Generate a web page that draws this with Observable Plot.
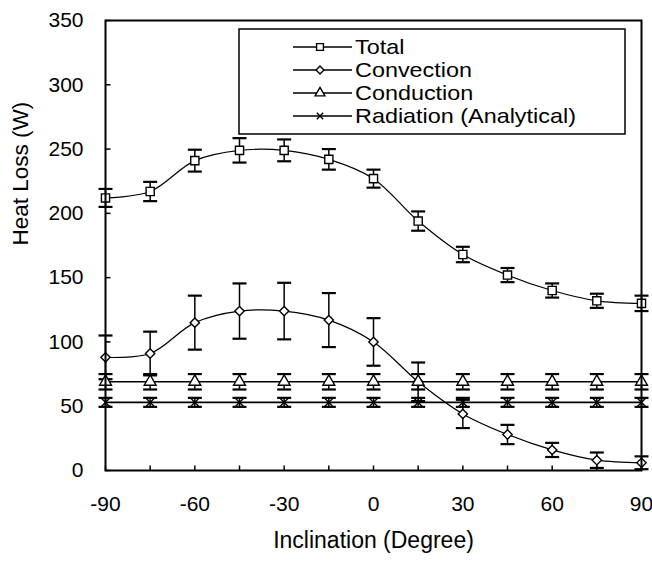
<!DOCTYPE html>
<html><head><meta charset="utf-8">
<script src="https://cdn.jsdelivr.net/npm/d3@7"></script>
<script src="https://cdn.jsdelivr.net/npm/@observablehq/plot@0.6"></script>
<style>body{margin:0;background:#fff}</style>
</head><body><div id="chart"></div>
<script>
// ---- data ----
const inclination = [-90, -75, -60, -45, -30, -15, 0, 15, 30, 45, 60, 75, 90];
const seriesNames = ["Total", "Convection", "Conduction", "Radiation (Analytical)"];
const total      = [212, 217, 241, 249, 249, 242, 227, 194, 168, 152, 140, 132, 130];
const totalErr   = [7, 7.5, 8.5, 9.5, 8.5, 8, 7, 7.5, 6, 5.5, 5.5, 5.5, 6];
const convection = [88, 91, 115, 124, 124, 117, 100, 69, 44, 28, 16, 8, 6];
const convectionErr = [17, 17, 21, 21.5, 22, 21, 18.5, 15, 11, 7.5, 5.5, 6, 5];
const conduction = [69, 69, 69, 69, 69, 69, 69, 69, 69, 69, 69, 69, 69];
const conductionErr = [6, 6, 6, 6, 6, 6, 6, 6, 6, 6, 6, 6, 6];
const radiation  = [53, 53, 53, 53, 53, 53, 53, 53, 53, 53, 53, 53, 53];
const radiationErr = [3.5, 3.5, 3.5, 3.5, 3.5, 3.5, 3.5, 3.5, 3.5, 3.5, 3.5, 3.5, 3.5];
const xTickLabels = [-90, -60, -30, 0, 30, 60, 90];
const xMinorTicks = [-90, -75, -60, -45, -30, -15, 0, 15, 30, 45, 60, 75, 90];
const yTicks = [0, 50, 100, 150, 200, 250, 300, 350];
const xTitle = "Inclination (Degree)";
const yTitle = "Heat Loss (W)";

const symbols = ["square", "diamond2", "triangle", "times"];
const d3Symbols = [d3.symbolSquare, d3.symbolDiamond2, d3.symbolTriangle, d3.symbolTimes];
const radii = [4.6, 4.2, 4.4, 3.6];
const curves = ["catmull-rom", "catmull-rom", "linear", "linear"];
const valueSets = [total, convection, conduction, radiation];
const errSets = [totalErr, convectionErr, conductionErr, radiationErr];

const series = seriesNames.map((name, k) =>
  inclination.map((x, i) => ({
    name, x, y: valueSets[k][i],
    lo: valueSets[k][i] - errSets[k][i],
    hi: valueSets[k][i] + errSets[k][i]
  })));

const cap = {draw(ctx) { ctx.moveTo(-7, 0); ctx.lineTo(7, 0); }};
const tickUp = {draw(ctx) { ctx.moveTo(0, 0); ctx.lineTo(0, -5); }};
const tickRight = {draw(ctx) { ctx.moveTo(0, 0); ctx.lineTo(5, 0); }};

const font = "'Liberation Sans', Arial, sans-serif";

const marks = [
  Plot.axisX({ticks: xTickLabels, tickSize: 0, tickPadding: 26, fontSize: 21, tickFormat: d => String(d), label: null}),
  Plot.axisY({ticks: yTicks, tickSize: 0, tickPadding: 22, fontSize: 21, tickFormat: d => String(d), label: null}),
  Plot.dot(xMinorTicks, {x: d => d, frameAnchor: "bottom", symbol: tickUp, r: 5, stroke: "black", strokeWidth: 1.5, fill: "none"}),
  Plot.dot(yTicks, {y: d => d, frameAnchor: "left", symbol: tickRight, r: 5, stroke: "black", strokeWidth: 1.5, fill: "none"}),
  Plot.text([xTitle], {frameAnchor: "bottom", dy: 77, fontSize: 23}),
  Plot.text([yTitle], {frameAnchor: "left", dx: -85, rotate: -90, fontSize: 22.5}),
];
series.forEach((rows, k) => {
  marks.push(Plot.line(rows, {x: "x", y: "y", curve: curves[k], stroke: "black", strokeWidth: k < 2 ? 1.2 : 1.6}));
});
series.forEach((rows, k) => {
  marks.push(Plot.ruleX(rows, {x: "x", y1: "lo", y2: "hi", stroke: "black", strokeWidth: 1.5}));
  marks.push(Plot.dot(rows, {x: "x", y: "lo", symbol: cap, r: 7, stroke: "black", strokeWidth: 2.2, fill: "none"}));
  marks.push(Plot.dot(rows, {x: "x", y: "hi", symbol: cap, r: 7, stroke: "black", strokeWidth: 2.2, fill: "none"}));
});
series.forEach((rows, k) => {
  marks.push(Plot.dot(rows, {x: "x", y: "y", symbol: symbols[k], r: radii[k], stroke: "black", strokeWidth: 1.4, fill: "white"}));
});
marks.push(Plot.frame({stroke: "black", strokeWidth: 2}));

const chart = Plot.plot({
  width: 652, height: 562,
  marginLeft: 105, marginRight: 11, marginTop: 20, marginBottom: 92,
  x: {domain: [-90, 90]},
  y: {domain: [0, 350]},
  style: {fontFamily: font, background: "white", color: "black", overflow: "visible"},
  marks
});
document.getElementById("chart").appendChild(chart);

// legend inside the plot area
const svg = d3.select(chart);
const lg = svg.append("g").attr("font-family", font).attr("font-size", 20).attr("text-anchor", "start");
const bx = 239, by = 29, bw = 386, bh = 105;
lg.append("rect").attr("x", bx).attr("y", by).attr("width", bw).attr("height", bh)
  .attr("fill", "white").attr("stroke", "black").attr("stroke-width", 1.5);
seriesNames.forEach((name, k) => {
  const cy = 47 + k * 23;
  lg.append("line").attr("x1", 293).attr("x2", 352).attr("y1", cy).attr("y2", cy)
    .attr("stroke", "black").attr("stroke-width", 1.6);
  lg.append("path").attr("transform", `translate(320,${cy})`)
    .attr("d", d3.symbol(d3Symbols[k], radii[k] * radii[k] * Math.PI * 0.7)())
    .attr("fill", "white").attr("stroke", "black").attr("stroke-width", 1.4);
  lg.append("text").attr("transform", `translate(355,${cy}) scale(1.17,1)`)
    .attr("dy", "0.35em").attr("text-anchor", "start").text(name);
});
</script>
</body></html>
